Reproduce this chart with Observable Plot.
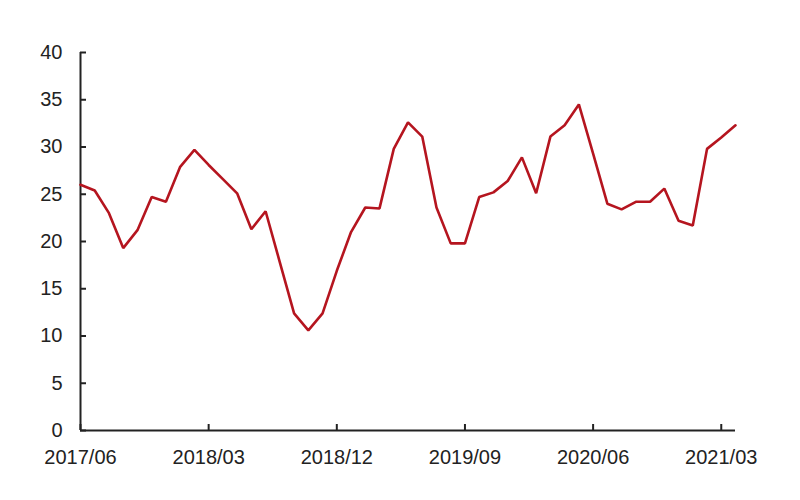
<!DOCTYPE html>
<html>
<head>
<meta charset="utf-8">
<script src="https://cdn.jsdelivr.net/npm/d3@7"></script>
<script src="https://cdn.jsdelivr.net/npm/@observablehq/plot@0.6"></script>
<style>
  html, body { margin: 0; padding: 0; background: #fff; }
  #chart { width: 800px; height: 500px; }
</style>
</head>
<body>
<div id="chart"></div>
<script>
// Monthly series, 2017/06 .. 2021/04
const months = [
  "2017/06","2017/07","2017/08","2017/09","2017/10","2017/11","2017/12",
  "2018/01","2018/02","2018/03","2018/04","2018/05","2018/06","2018/07","2018/08","2018/09","2018/10","2018/11","2018/12",
  "2019/01","2019/02","2019/03","2019/04","2019/05","2019/06","2019/07","2019/08","2019/09","2019/10","2019/11","2019/12",
  "2020/01","2020/02","2020/03","2020/04","2020/05","2020/06","2020/07","2020/08","2020/09","2020/10","2020/11","2020/12",
  "2021/01","2021/02","2021/03","2021/04"
];
const values = [
  26.0, 25.4, 23.0, 19.3, 21.2, 24.7, 24.2,
  27.9, 29.7, 28.1, 26.6, 25.1, 21.3, 23.2, 17.8, 12.4, 10.6, 12.4, 16.9,
  21.0, 23.6, 23.5, 29.8, 32.6, 31.1, 23.6, 19.8, 19.8, 24.7, 25.2, 26.4,
  28.9, 25.1, 31.1, 32.3, 34.5, 29.3, 24.0, 23.4, 24.2, 24.2, 25.6, 22.2,
  21.7, 29.8, 31.0, 32.3
];
const xTickLabels = ["2017/06","2018/03","2018/12","2019/09","2020/06","2021/03"];
const yTicks = [0, 5, 10, 15, 20, 25, 30, 35, 40];

const data = months.map((m, i) => ({i, month: m, value: values[i]}));
const xTicks = xTickLabels.map(l => months.indexOf(l));
const fmtX = i => months[i];

const chart = Plot.plot({
  width: 800,
  height: 500,
  marginLeft: 80,
  marginRight: 65,
  marginTop: 52,
  marginBottom: 70,
  style: {fontFamily: "'Liberation Sans', Arial, sans-serif", fontSize: "20px", color: "#222", background: "#fff"},
  x: {domain: [0, months.length - 1]},
  y: {domain: [0, 40]},
  marks: [
    // inward tick marks
    Plot.axisY({ticks: yTicks, tickSize: 6, dx: 6, tickFormat: () => "", stroke: "#222", strokeWidth: 2, label: null}),
    Plot.axisY({ticks: yTicks, tickSize: 0, tickPadding: 18, label: null, fill: "#222"}),
    Plot.axisX({ticks: xTicks, tickSize: 6, dy: -6, tickFormat: () => "", stroke: "#222", strokeWidth: 2, label: null}),
    Plot.axisX({ticks: xTicks, tickSize: 0, tickPadding: 19, tickFormat: fmtX, label: null, fill: "#222"}),
    Plot.ruleX([0], {stroke: "#222", strokeWidth: 2}),
    Plot.ruleY([0], {stroke: "#222", strokeWidth: 2}),
    Plot.lineY(data, {x: "i", y: "value", stroke: "#b5151f", strokeWidth: 2.6, strokeLinejoin: "miter"})
  ]
});
document.getElementById("chart").appendChild(chart);
</script>
</body>
</html>
